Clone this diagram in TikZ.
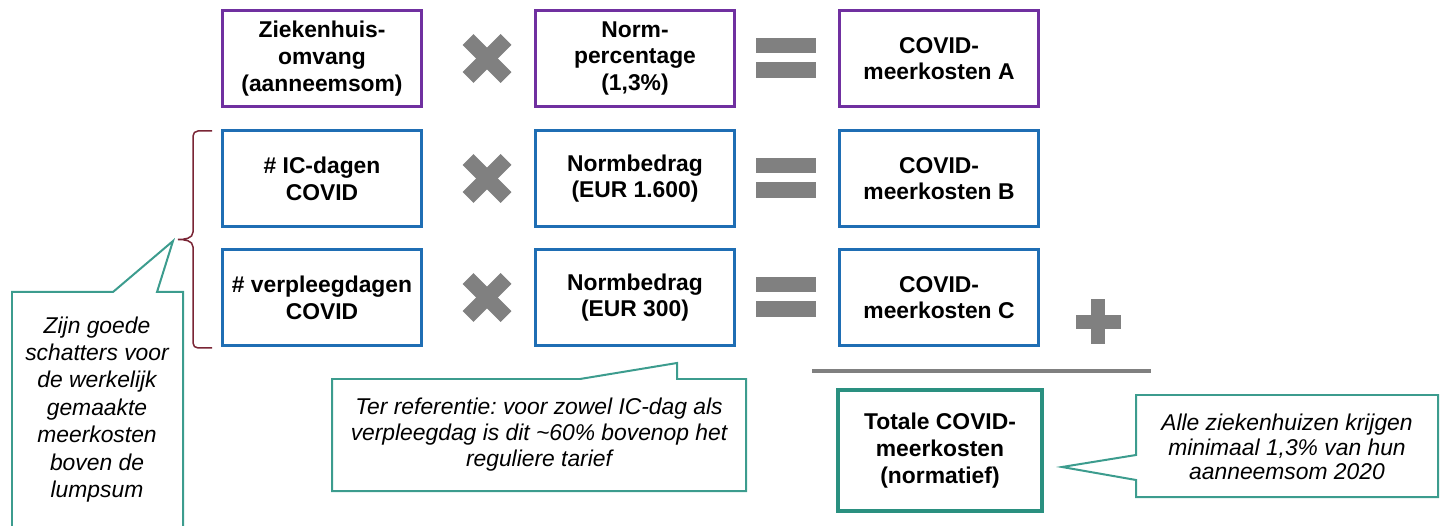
\documentclass[tikz,border=0pt]{standalone}
\usepackage{fontspec}
\setmainfont{Liberation Sans}
\usepackage{tikz}
\frenchspacing

\definecolor{normpurple}{HTML}{7030A0}
\definecolor{normblue}{HTML}{1F6EB4}
\definecolor{totalteal}{HTML}{2A9080}
\definecolor{noteteal}{HTML}{3C9C8E}
\definecolor{signgray}{HTML}{808080}
\definecolor{bracered}{HTML}{7A2535}

\begin{document}
\begin{tikzpicture}[x=0.02cm, y=-0.02cm,
  box/.style={draw, line width=0.06cm, minimum width=4cm, minimum height=1.94cm,
    align=center, font=\fontsize{13}{15.2}\selectfont\bfseries},
  pbox/.style={box, draw=normpurple},
  bbox/.style={box, draw=normblue},
  tbox/.style={box, draw=totalteal, line width=0.07cm, minimum width=4.08cm, minimum height=2.42cm},
  note/.style={align=center, font=\fontsize{13}{15}\selectfont\itshape},
  callout/.style={draw=noteteal, line width=0.04cm, line join=miter}]
  \useasboundingbox (0,0) rectangle (1442,526);
  \clip (0,0) rectangle (1442,526);

  % Nodes
  \node[pbox] (omvang) at (322,58.5) {Ziekenhuis-\\omvang\\(aanneemsom)};
  \node[pbox] (normpct) at (635,58.5) {Norm-\\percentage\\(1,3\%)};
  \node[pbox] (kostenA) at (939,58.5) {COVID-\\meerkosten A};

  \node[bbox] (icdagen) at (322,178.5) {\# IC-dagen\\COVID};
  \node[bbox] (normic) at (635,178.5) {Normbedrag\\(EUR 1.600)};
  \node[bbox] (kostenB) at (939,178.5) {COVID-\\meerkosten B};

  \node[bbox] (vpdagen) at (322,297.5) {\# verpleegdagen\\COVID};
  \node[bbox] (normvp) at (635,297.5) {Normbedrag\\(EUR 300)};
  \node[bbox] (kostenC) at (939,297.5) {COVID-\\meerkosten C};

  \node[tbox] (totaal) at (940,450.5) {Totale COVID-\\meerkosten\\(normatief)};

  % Signs
  \foreach \y in {58.5,178.5,297.5} {
    \draw[signgray, line width=0.31cm] (468,\y-19) -- (506,\y+19);
    \draw[signgray, line width=0.31cm] (468,\y+19) -- (506,\y-19);
    \fill[signgray] (756,\y-20) rectangle (816,\y-5);
    \fill[signgray] (756,\y+4) rectangle (816,\y+20);
  }
  \fill[signgray] (1076,315) rectangle (1121,329);
  \fill[signgray] (1091,299) rectangle (1105,344);
  \draw[signgray, line width=0.08cm] (812,371) -- (1151,371);

  % Brace
  \draw[bracered, line width=0.03cm] (212,131) -- (198,131) to[out=180,in=90] (193,136)
    -- (193,232) to[out=-90,in=0] (178,239.5) to[out=0,in=90] (193,247)
    -- (193,343) to[out=-90,in=180] (198,348) -- (212,348);

  % Notes
  \draw[callout] (12,292) -- (113,292) -- (173,241) -- (157,292) -- (183,292)
    -- (183,540) -- (12,540) -- cycle;
  \node[note, font=\fontsize{13}{15.6}\selectfont\itshape] (schatters) at (97,409.5)
    {Zijn goede\\schatters voor\\de werkelijk\\gemaakte\\meerkosten\\boven de\\lumpsum};

  \draw[callout] (332,379) -- (580,379) -- (677,363) -- (677,379) -- (746,379)
    -- (746,491) -- (332,491) -- cycle;
  \node[note] (referentie) at (539,434.5)
    {Ter referentie: voor zowel IC-dag als\\verpleegdag is dit \textasciitilde60\% bovenop het\\reguliere tarief};

  \draw[callout] (1136,395) -- (1438,395) -- (1438,497) -- (1136,497) -- (1136,480)
    -- (1062,467) -- (1136,455) -- cycle;
  \node[note, font=\fontsize{13}{13.8}\selectfont\itshape] (minimaal) at (1287,447)
    {Alle ziekenhuizen krijgen\\minimaal 1,3\% van hun\\aanneemsom 2020};
\end{tikzpicture}
\end{document}
